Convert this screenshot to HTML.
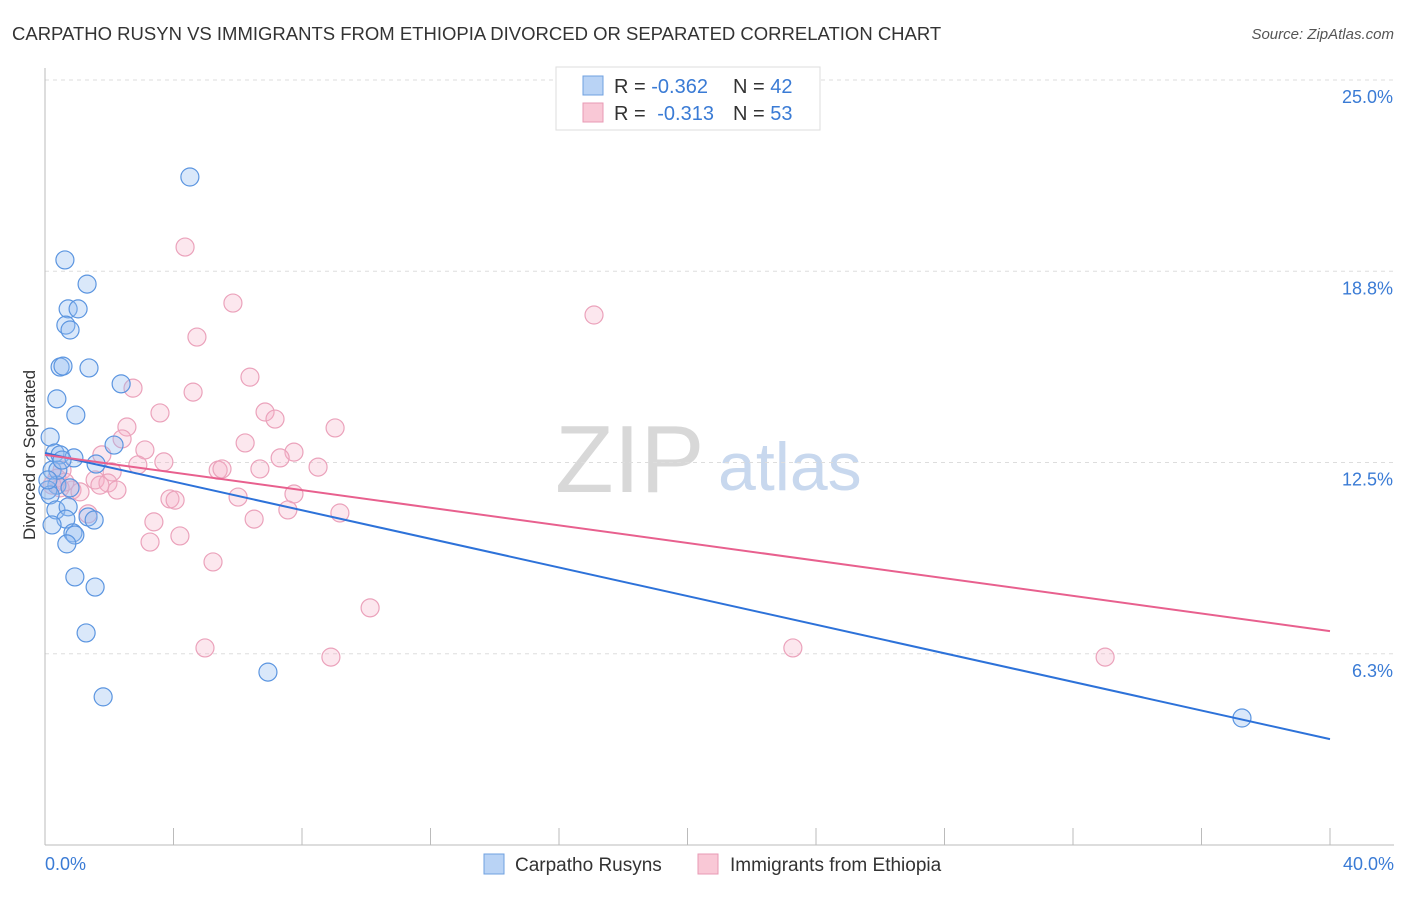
<!DOCTYPE html>
<html><head><meta charset="utf-8"><style>
body{margin:0;background:#fff;font-family:"Liberation Sans",sans-serif}
svg text{font-family:"Liberation Sans",sans-serif}
</style></head><body>
<svg width="1406" height="892" viewBox="0 0 1406 892">
<text x="12" y="40" font-size="18.5" fill="#333">CARPATHO RUSYN VS IMMIGRANTS FROM ETHIOPIA DIVORCED OR SEPARATED CORRELATION CHART</text>
<text x="1394" y="39" font-size="15" fill="#555" font-style="italic" text-anchor="end">Source: ZipAtlas.com</text>
<text x="35" y="455" font-size="17" fill="#333" text-anchor="middle" transform="rotate(-90 35 455)">Divorced or Separated</text>
<text x="555" y="492" font-size="96" fill="#d8d8d8" font-family="Liberation Serif">ZIP</text>
<text x="718" y="490" font-size="68" fill="#c8d8ee">atlas</text>
<g id="grid"></g><g id="axes"></g><g id="pts"></g><g id="lines"></g>
<g>
<rect x="556" y="67" width="264" height="63" fill="#fff" stroke="#ddd"/>
<rect x="583" y="76" width="20" height="19" fill="#b9d3f5" stroke="#6fa0e0"/>
<rect x="583" y="103" width="20" height="19" fill="#f9c8d6" stroke="#e89ab4"/>
<text x="614" y="93" font-size="20" fill="#333">R = <tspan fill="#3a7bd5">-0.362</tspan><tspan x="733">N = </tspan><tspan fill="#3a7bd5">42</tspan></text>
<text x="614" y="120" font-size="20" fill="#333">R = <tspan fill="#3a7bd5" dx="6">-0.313</tspan><tspan x="733">N = </tspan><tspan fill="#3a7bd5">53</tspan></text>
</g>
<g>
<rect x="484" y="854" width="20" height="20" fill="#b9d3f5" stroke="#6fa0e0"/>
<text x="515" y="871" font-size="19" fill="#333">Carpatho Rusyns</text>
<rect x="698" y="854" width="20" height="20" fill="#f9c8d6" stroke="#e89ab4"/>
<text x="730" y="871" font-size="19" fill="#333">Immigrants from Ethiopia</text>
</g>
</svg>
<script>
const blueX=[4.51,0.62,1.31,0.72,1.03,0.65,0.78,0.47,0.56,1.37,2.37,0.37,0.96,2.15,0.16,0.31,0.47,0.90,1.59,0.22,0.37,0.09,0.16,0.78,1.34,0.34,0.72,1.53,0.65,0.22,0.87,0.93,0.68,0.93,1.56,1.28,1.81,6.94,37.26,0.40,0.09,0.53];
const blueY=[21.83,19.12,18.33,17.52,17.52,16.99,16.83,15.62,15.65,15.59,15.07,14.58,14.05,13.07,13.33,12.81,12.75,12.65,12.45,12.25,11.76,11.60,11.44,11.67,10.72,10.95,11.05,10.62,10.65,10.46,10.20,10.13,9.84,8.76,8.43,6.93,4.84,5.65,4.15,12.25,11.93,12.58];
const pinkX=[4.36,5.85,17.09,4.73,6.38,2.74,4.61,3.58,6.85,7.16,9.03,2.55,2.40,6.23,3.11,7.75,1.77,7.32,3.70,8.50,2.89,5.39,5.51,6.69,2.09,0.53,0.37,1.56,1.96,0.84,1.09,2.24,0.47,6.01,7.75,3.89,4.05,1.34,7.56,9.18,3.39,6.51,4.20,3.27,5.23,10.12,4.98,8.90,23.28,33.00,1.71,0.62,0.22];
const pinkY=[19.54,17.71,17.32,16.60,15.29,14.93,14.80,14.12,14.15,13.92,13.63,13.66,13.27,13.14,12.91,12.84,12.75,12.65,12.52,12.35,12.42,12.25,12.29,12.29,12.19,12.25,11.99,11.93,11.83,11.60,11.54,11.60,11.67,11.37,11.47,11.31,11.27,10.82,10.95,10.85,10.56,10.65,10.10,9.90,9.25,7.75,6.44,6.14,6.44,6.14,11.76,11.86,11.76];
const trendBlue=[12.81,3.46];
const trendPink=[12.75,6.99];
const yTicks=[25.0,18.8,12.5,6.3];
const yTickVals=[25,18.75,12.5,6.25];
const xTickLabels=["0.0%","40.0%"];
const NS="http://www.w3.org/2000/svg";
const X=v=>45+v*32.125, Y=v=>845-v*30.6;
function mk(tag,attrs,parent){const e=document.createElementNS(NS,tag);for(const k in attrs)e.setAttribute(k,attrs[k]);document.getElementById(parent).appendChild(e);return e;}
yTickVals.forEach((v,i)=>{
 const l=mk('line',{x1:45,x2:1394,y1:Y(v),y2:Y(v),stroke:'#ddd','stroke-dasharray':'4,4'},'grid');
 
 
 const t=mk('text',{x:1393,y:Y(v)+23,'font-size':18,fill:'#3a7bd5','text-anchor':'end'},'grid');
 t.textContent=yTicks[i].toFixed(1)+'%';
 
 
});
const ax=mk('line',{x1:45,x2:45,y1:68,y2:845,stroke:'#bbb'},'axes');


const bx=mk('line',{x1:45,x2:1394,y1:845,y2:845,stroke:'#bbb'},'axes');


for(let i=0;i<=10;i++){
 const t=mk('line',{x1:X(i*4),x2:X(i*4),y1:828,y2:845,stroke:'#bbb'},'axes');
 
 
}
[[0,'start',45],[40,'end',1394]].forEach((d,i)=>{
 const t=mk('text',{x:d[2],y:870,'font-size':18,fill:'#3a7bd5','text-anchor':d[1]},'axes');
 t.textContent=xTickLabels[i];
 
 
});
function pts(xs,ys,fill,stroke,name){xs.forEach((x,i)=>{
 const c=mk('circle',{cx:X(x),cy:Y(ys[i]),r:9,fill:fill,stroke:stroke,'stroke-width':1.2},'pts');
 
 
});}
pts(pinkX,pinkY,'rgba(246,176,198,0.3)','#eba2bb','ethiopia-point');
pts(blueX,blueY,'rgba(150,190,240,0.35)','#5b95e0','carpatho-point');
const lb=mk('line',{x1:X(0),y1:Y(trendBlue[0]),x2:X(40),y2:Y(trendBlue[1]),stroke:'#2d72d9','stroke-width':2},'lines');


const lp=mk('line',{x1:X(0),y1:Y(trendPink[0]),x2:X(40),y2:Y(trendPink[1]),stroke:'#e8608e','stroke-width':2},'lines');


</script>
</body></html>
